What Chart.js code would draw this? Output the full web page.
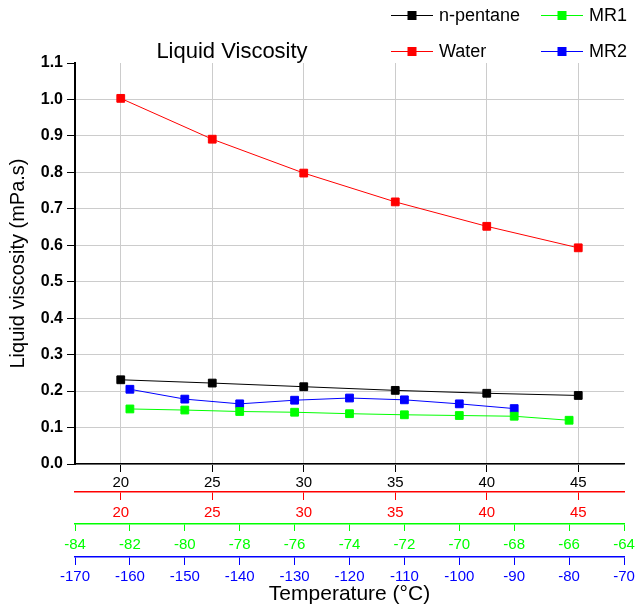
<!DOCTYPE html>
<html>
<head>
<meta charset="utf-8">
<script src="https://cdn.jsdelivr.net/npm/chart.js@4.4.1/dist/chart.umd.min.js"></script>
<style>
  body { margin: 0; background: #fff; }
  canvas { display: block; }
</style>
</head>
<body>
<canvas id="myChart" width="636" height="608"></canvas>
<script>
// temperatures (deg C) for each fluid
const tempPentane = [20, 25, 30, 35, 40, 45];
const tempWater = [20, 25, 30, 35, 40, 45];
const tempMR1 = [-82, -80, -78, -76, -74, -72, -70, -68, -66];
const tempMR2 = [-160, -150, -140, -130, -120, -110, -100, -90];

// liquid viscosity (mPa.s)
const viscPentane = [0.231, 0.222, 0.212, 0.202, 0.194, 0.188];
const viscWater = [1.003, 0.891, 0.798, 0.719, 0.652, 0.593];
const viscMR1 = [0.151, 0.148, 0.144, 0.142, 0.138, 0.135, 0.133, 0.131, 0.120];
const viscMR2 = [0.205, 0.178, 0.165, 0.175, 0.181, 0.176, 0.165, 0.152];

// tick labels
const tempTicks = [20, 25, 30, 35, 40, 45];
const mr1Ticks = [-84, -82, -80, -78, -76, -74, -72, -70, -68, -66, -64];
const mr2Ticks = [-170, -160, -150, -140, -130, -120, -110, -100, -90, -80, -70];
const viscTicks = [0, 0.1, 0.2, 0.3, 0.4, 0.5, 0.6, 0.7, 0.8, 0.9, 1.0, 1.1];

const FONT = "'Liberation Sans', Arial, sans-serif";

const pts = (xs, ys) => xs.map((x, i) => ({ x: x, y: ys[i] }));

function series(label, color, xs, ys, axisId) {
    return {
        label: label,
        data: pts(xs, ys),
        xAxisID: axisId,
        showLine: true,
        borderColor: color,
        backgroundColor: color,
        borderWidth: 1,
        pointStyle: 'rect',
        pointRadius: 5.5,
        pointBorderWidth: 1,
        pointBorderColor: color,
        pointBackgroundColor: color
    };
}

function xAxis(color, min, max, tickList, weight, height, tickLen, pad, onArea) {
    return {
        type: 'linear',
        axis: 'x',
        position: 'bottom',
        weight: weight,
        min: min,
        max: max,
        afterBuildTicks: s => { s.ticks = tickList.map(v => ({ value: v })); },
        afterFit: s => { s.height = height; s.paddingLeft = 0; s.paddingRight = 0; },
        border: { color: color, width: 1.5 },
        grid: {
            drawOnChartArea: onArea,
            color: '#cccccc',
            tickColor: color,
            tickLength: tickLen,
            lineWidth: 1
        },
        ticks: {
            color: color,
            padding: pad,
            maxRotation: 0,
            autoSkip: false,
            font: { family: FONT, size: 15 }
        }
    };
}

const scaleX = xAxis('#000000', 17.5, 47.5, tempTicks, 0, 28, 8, 2, true);
const scaleRed = xAxis('#ff0000', 17.5, 47.5, tempTicks, 1, 32, 8, 4, false);
const scaleMR1 = xAxis('#00ff00', -84, -64, mr1Ticks, 2, 33, 7, 5, false);
const scaleMR2 = xAxis('#0000ff', -170, -70, mr2Ticks, 3, 51, 8, 3, false);
scaleMR2.title = {
    display: true,
    text: 'Temperature (°C)',
    color: '#000',
    font: { family: FONT, size: 21, lineHeight: 1.2 },
    padding: { top: 0, bottom: 1 }
};

// legend + title drawn by hand (line-square-line markers)
const legendItems = [
    { text: 'n-pentane', color: '#000000', x: 391, y: 15 },
    { text: 'MR1', color: '#00ff00', x: 541, y: 15 },
    { text: 'Water', color: '#ff0000', x: 391, y: 51 },
    { text: 'MR2', color: '#0000ff', x: 541, y: 51 }
];

const decorations = {
    id: 'decorations',
    afterDraw(chart) {
        const ctx = chart.ctx;
        ctx.save();
        legendItems.forEach(it => {
            ctx.strokeStyle = it.color;
            ctx.lineWidth = 1;
            ctx.beginPath();
            ctx.moveTo(it.x, it.y + 0.5);
            ctx.lineTo(it.x + 42, it.y + 0.5);
            ctx.stroke();
            ctx.fillStyle = it.color;
            ctx.fillRect(it.x + 16.5, it.y - 4, 9, 9);
            ctx.fillStyle = '#000';
            ctx.font = '18px ' + FONT;
            ctx.textAlign = 'left';
            ctx.textBaseline = 'middle';
            ctx.fillText(it.text, it.x + 48, it.y + 1);
        });
        ctx.font = '22px ' + FONT;
        ctx.textAlign = 'center';
        ctx.textBaseline = 'middle';
        ctx.fillStyle = '#000';
        ctx.fillText('Liquid Viscosity', 232, 52);
        ctx.restore();
    }
};

const ctx = document.getElementById('myChart').getContext('2d');
new Chart(ctx, {
    type: 'scatter',
    data: {
        datasets: [
            series('n-pentane', '#000000', tempPentane, viscPentane, 'x'),
            series('Water', '#ff0000', tempWater, viscWater, 'xRed'),
            series('MR1', '#00ff00', tempMR1, viscMR1, 'xMR1'),
            series('MR2', '#0000ff', tempMR2, viscMR2, 'xMR2')
        ]
    },
    options: {
        responsive: false,
        animation: false,
        devicePixelRatio: 1,
        layout: { padding: { top: 63, left: 0, right: 12, bottom: 0 } },
        plugins: {
            legend: { display: false },
            title: { display: false },
            tooltip: { enabled: false }
        },
        scales: {
            x: scaleX,
            xRed: scaleRed,
            xMR1: scaleMR1,
            xMR2: scaleMR2,
            y: {
                type: 'linear',
                min: 0,
                max: 1.1,
                afterBuildTicks: s => { s.ticks = viscTicks.map(v => ({ value: v })); },
                afterFit: s => { s.width = 75; },
                border: { color: '#000', width: 2 },
                grid: {
                    color: c => (c.tick && c.tick.value > 1.05) ? 'rgba(0,0,0,0)' : '#cccccc',
                    tickColor: '#000',
                    tickLength: 8,
                    lineWidth: 1
                },
                ticks: {
                    color: '#000',
                    padding: 4,
                    font: { family: FONT, size: 16, weight: 'bold' },
                    callback: v => Number(v).toFixed(1)
                },
                title: {
                    display: true,
                    text: 'Liquid viscosity (mPa.s)',
                    color: '#000',
                    font: { family: FONT, size: 20, lineHeight: 1.2 },
                    padding: { top: 6, bottom: 0 }
                }
            }
        }
    },
    plugins: [decorations]
});
</script>
</body>
</html>
